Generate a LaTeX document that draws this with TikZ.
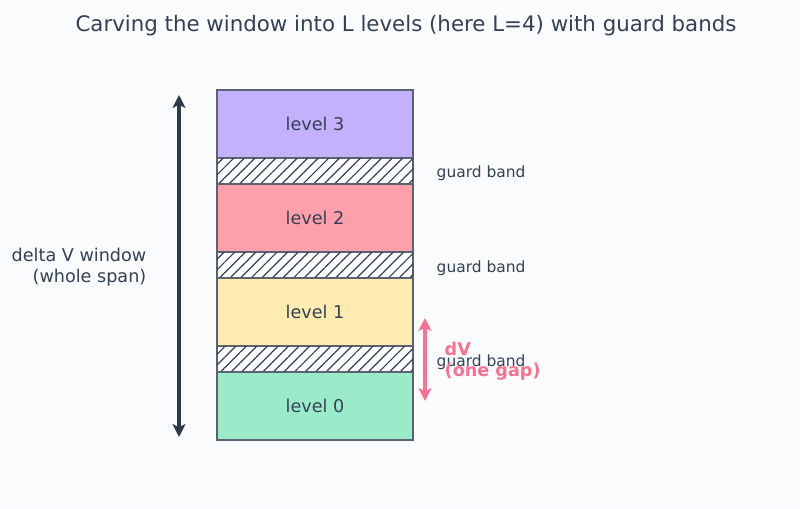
\documentclass[tikz,border=0pt]{standalone}
\usepackage{fontspec}
\setmainfont{DejaVu Sans}
\usetikzlibrary{arrows.meta, positioning, patterns.meta}
\definecolor{bgpaper}{HTML}{FAFBFD}
\definecolor{inkdark}{HTML}{334155}
\definecolor{edgegray}{HTML}{5A6372}
\definecolor{lvthree}{HTML}{C4B1FB}
\definecolor{lvtwo}{HTML}{FDA0AB}
\definecolor{lvone}{HTML}{FEEBAF}
\definecolor{lvzero}{HTML}{9BEBCB}
\definecolor{gapink}{HTML}{F87191}

\begin{document}
\begin{tikzpicture}[
    x=0.75pt, y=-0.75pt,
    >={Stealth[length=3.4mm, width=3.4mm, inset=0.8mm]},
    every node/.style={text=inkdark},
    node distance = 0pt,
    level/.style ={draw=edgegray, line width=1.3pt, outer sep=0pt,
                   minimum width=147pt, minimum height=51pt,
                   font=\fontsize{13.2}{16}\selectfont},
    guard/.style ={draw=edgegray, line width=1.3pt, outer sep=0pt,
                   minimum width=147pt, minimum height=19.5pt,
                   fill=white,
                   postaction={pattern={Lines[angle=45, distance=5.6pt,
                               line width=0.9pt]}, pattern color=inkdark}},
    tag/.style   ={anchor=west, font=\fontsize{11.6}{14}\selectfont},
    span/.style  ={<->, line width=3pt, draw=inkdark!90!black},
    gap/.style   ={<->, line width=2.6pt, draw=gapink},
]
\fill[bgpaper] (0,0) rectangle (800,508);
\useasboundingbox (0,0) rectangle (800,508);

\node[font=\fontsize{16}{19}\selectfont] (title) at (406,26)
     {Carving the window into L levels (here L=4) with guard bands};

% stack of levels and guard bands
\node[level, fill=lvthree] (lv3) at (315,124) {level 3};
\node[guard, below=of lv3] (gb2) {};
\node[level, fill=lvtwo,  below=of gb2] (lv2) {level 2};
\node[guard, below=of lv2] (gb1) {};
\node[level, fill=lvone,  below=of gb1] (lv1) {level 1};
\node[guard, below=of lv1] (gb0) {};
\node[level, fill=lvzero, below=of gb0] (lv0) {level 0};

\node[tag] (tag2) at (432,173) {guard band};
\node[tag] (tag1) at (432,268) {guard band};
\node[tag] (tag0) at (432,362) {guard band};

% whole window
\coordinate (spantop) at (179,95);
\coordinate (spanbot) at (179,437);
\draw[span] (spanbot) -- (spantop);
\node[align=right, anchor=east, font=\fontsize{13.2}{15.8}\selectfont]
     (spanlbl) at (151,267) {delta V window\\(whole span)};

% one gap
\coordinate (gaptop) at (425,318);
\coordinate (gapbot) at (425,401);
\draw[gap] (gapbot) -- (gaptop);
\node[align=left, anchor=west, text=gapink,
      font=\bfseries\fontsize{13.2}{15.8}\selectfont]
     (gaplbl) at (440,361) {dV\\(one gap)};
\end{tikzpicture}
\end{document}
